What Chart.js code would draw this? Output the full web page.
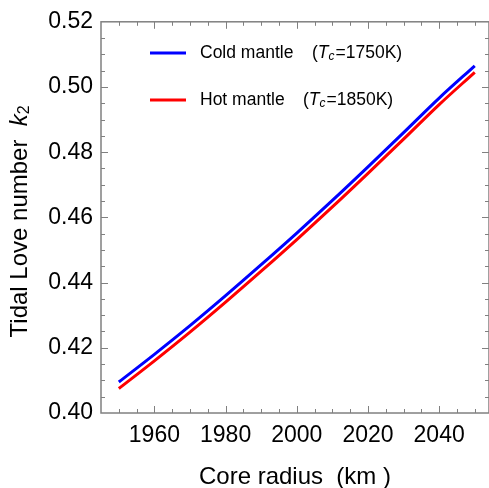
<!DOCTYPE html>
<html>
<head>
<meta charset="utf-8">
<script src="https://cdn.jsdelivr.net/npm/chart.js@4"></script>
<style>
  body { margin: 0; background: #fff; }
</style>
</head>
<body>
<canvas id="chart" width="489" height="488"></canvas>
<script>
// core radius (km)
const radii = [1950, 1960, 1970, 1980, 1990, 2000, 2010, 2020, 2030, 2040, 2050];
// k2, cold mantle (Tc = 1750K)
const coldK2 = [0.4095, 0.4180, 0.4268, 0.4360, 0.4455, 0.4552, 0.4652, 0.4755, 0.4860, 0.4966, 0.5065];
// k2, hot mantle (Tc = 1850K)
const hotK2 = [0.4075, 0.4160, 0.4248, 0.4340, 0.4435, 0.4532, 0.4632, 0.4735, 0.4840, 0.4946, 0.5045];

const FONT = "'Liberation Sans', Arial, Helvetica, sans-serif";

function toPoints(ys) {
  return radii.map((x, i) => ({ x: x, y: ys[i] }));
}

// frame, inward ticks, y title and legend
const decorations = {
  id: "decorations",
  afterDraw(chart) {
    const ctx = chart.ctx;
    const a = chart.chartArea;
    const xs = chart.scales.x;
    const ys = chart.scales.y;

    ctx.save();
    ctx.strokeStyle = "#808080";
    ctx.lineWidth = 1.5;
    ctx.strokeRect(a.left, a.top, a.right - a.left, a.bottom - a.top);

    ctx.lineWidth = 1;
    ctx.beginPath();
    for (let v = 1950; v <= 2050; v += 5) {
      const px = Math.round(xs.getPixelForValue(v)) + 0.5;
      const len = (v - 1960) % 20 === 0 ? 7 : 4;
      ctx.moveTo(px, a.bottom);
      ctx.lineTo(px, a.bottom - len);
      ctx.moveTo(px, a.top);
      ctx.lineTo(px, a.top + len);
    }
    for (let i = 1; i < 24; i++) {
      const v = 0.40 + i * 0.005;
      const py = Math.round(ys.getPixelForValue(v)) + 0.5;
      const len = i % 4 === 0 ? 7 : 4;
      ctx.moveTo(a.left, py);
      ctx.lineTo(a.left + len, py);
      ctx.moveTo(a.right, py);
      ctx.lineTo(a.right - len, py);
    }
    ctx.stroke();
    ctx.restore();

    // y axis title: Tidal Love number k2
    ctx.save();
    ctx.fillStyle = "#000";
    ctx.textBaseline = "middle";
    ctx.translate(20, (a.top + a.bottom) / 2 + 4);
    ctx.rotate(-Math.PI / 2);
    const parts = [
      { t: "Tidal Love number  ", f: "24px " + FONT, dy: 0 },
      { t: "k", f: "italic 24px " + FONT, dy: 0 },
      { t: "2", f: "16px " + FONT, dy: 5 }
    ];
    let total = 0;
    parts.forEach(p => { ctx.font = p.f; p.w = ctx.measureText(p.t).width; total += p.w; });
    let x = -total / 2;
    parts.forEach(p => { ctx.font = p.f; ctx.fillText(p.t, x, p.dy); x += p.w; });
    ctx.restore();

    // legend
    const entries = [
      { color: chart.data.datasets[0].borderColor, name: "Cold mantle", gap: 312, temp: "=1750K)", y: 53 },
      { color: chart.data.datasets[1].borderColor, name: "Hot mantle", gap: 303, temp: "=1850K)", y: 100 }
    ];
    ctx.save();
    ctx.textBaseline = "middle";
    ctx.fillStyle = "#000";
    entries.forEach(e => {
      ctx.strokeStyle = e.color;
      ctx.lineWidth = 3;
      ctx.beginPath();
      ctx.moveTo(150, e.y);
      ctx.lineTo(186, e.y);
      ctx.stroke();
      ctx.font = "17.5px " + FONT;
      ctx.fillText(e.name, 200, e.y);
      let tx = e.gap;
      ctx.fillText("(", tx, e.y);
      tx += ctx.measureText("(").width;
      ctx.font = "italic 17.5px " + FONT;
      ctx.fillText("T", tx, e.y);
      tx += ctx.measureText("T").width;
      ctx.font = "italic 12px " + FONT;
      ctx.fillText("c", tx, e.y + 4);
      tx += ctx.measureText("c").width + 1;
      ctx.font = "17.5px " + FONT;
      ctx.fillText(e.temp, tx, e.y);
    });
    ctx.restore();
  }
};

new Chart(document.getElementById("chart"), {
  type: "line",
  data: {
    datasets: [
      {
        label: "Cold mantle",
        data: toPoints(coldK2),
        borderColor: "#0000ff",
        borderWidth: 3,
        pointRadius: 0,
        cubicInterpolationMode: "monotone"
      },
      {
        label: "Hot mantle",
        data: toPoints(hotK2),
        borderColor: "#ff0000",
        borderWidth: 3,
        pointRadius: 0,
        cubicInterpolationMode: "monotone"
      }
    ]
  },
  options: {
    responsive: false,
    animation: false,
    devicePixelRatio: 1,
    layout: { padding: { left: 0, right: 0, top: 20, bottom: 0 } },
    plugins: { legend: { display: false }, tooltip: { enabled: false } },
    scales: {
      x: {
        type: "linear",
        min: 1945,
        max: 2054,
        grid: { display: false, drawTicks: false },
        border: { display: false },
        ticks: {
          stepSize: 20,
          includeBounds: false,
          color: "#000",
          font: { family: FONT, size: 23 },
          padding: 9,
          maxRotation: 0,
          callback: v => String(v)
        },
        title: {
          display: true,
          text: "Core radius  (km )",
          color: "#000",
          font: { family: FONT, size: 24 },
          padding: { top: 0, bottom: -4 }
        },
        afterFit(s) { s.height = 75; }
      },
      y: {
        min: 0.40,
        max: 0.52,
        grid: { display: false, drawTicks: false },
        border: { display: false },
        ticks: {
          stepSize: 0.02,
          color: "#000",
          font: { family: FONT, size: 23 },
          padding: 8,
          callback: v => v.toFixed(2)
        },
        afterFit(s) { s.width = 101; }
      }
    }
  },
  plugins: [decorations]
});
</script>
</body>
</html>
